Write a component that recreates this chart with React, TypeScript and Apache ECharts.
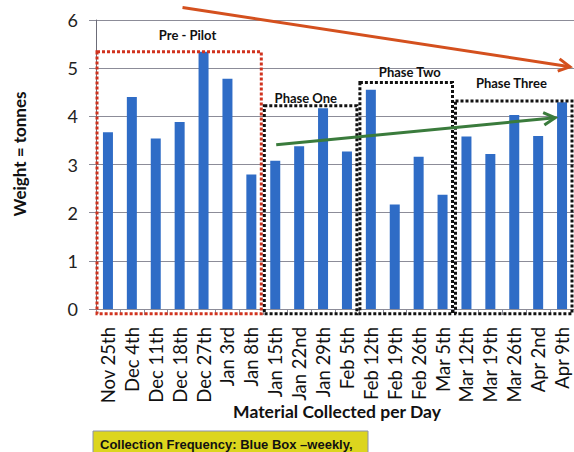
import React, { useEffect, useRef } from 'react';
import * as echarts from 'echarts';

const categories = ['Nov 25th', 'Dec 4th', 'Dec 11th', 'Dec 18th', 'Dec 27th', 'Jan 3rd', 'Jan 8th', 'Jan 15th', 'Jan 22nd', 'Jan 29th', 'Feb 5th', 'Feb 12th', 'Feb 19th', 'Feb 26th', 'Mar 5th', 'Mar 12th', 'Mar 19th', 'Mar 26th', 'Apr 2nd', 'Apr 9th'];
const tonnes = [3.67, 4.40, 3.54, 3.88, 5.34, 4.78, 2.79, 3.08, 3.38, 4.17, 3.27, 4.55, 2.17, 3.16, 2.37, 3.58, 3.22, 4.03, 3.59, 4.29];
const yMin = 0;
const yMax = 6;
const yInterval = 1;

const phaseNames = ['Pre - Pilot', 'Phase One', 'Phase Two', 'Phase Three'];
const phaseStart = [0, 7, 11, 15];
const phaseEnd = [6, 10, 14, 19];
const phaseTop = [5.34, 4.22, 4.70, 4.32];
const phaseLabelY = [5.69, 4.39, 4.92, 4.70];
const phaseLabelShift = [0.35, -0.2, 0.15, -0.1];
const phaseColors = ['#d0321e', '#111111', '#111111', '#111111'];

const redTrend = [[3.12, 6.26], [19.33, 5.03]];
const greenTrend = [[7.04, 3.41], [18.71, 3.97]];

const yAxisTitle = 'Weight = tonnes';
const xAxisTitle = 'Material Collected per Day';
const noteText = 'Collection Frequency: Blue Box \u2013weekly,';

const FONT = 'Lato, "Open Sans", sans-serif';

export default function App() {
  const ref = useRef<HTMLDivElement>(null);
  useEffect(() => {
    if (!ref.current) return;
    const chart = echarts.init(ref.current, null, { renderer: 'svg' });
    chart.setOption({
      animation: false,
      backgroundColor: '#ffffff',
      grid: { left: 96, top: 20, width: 480, height: 289, containLabel: false },
      xAxis: {
        type: 'category',
        data: categories,
        boundaryGap: true,
        axisLine: { show: true, lineStyle: { color: '#8c8c98', width: 1 } },
        axisTick: { show: true, length: 6, lineStyle: { color: '#8c8c98' } },
        axisLabel: { rotate: 90, interval: 0, margin: 18, fontSize: 18.5, color: '#111', fontFamily: FONT },
      },
      yAxis: {
        type: 'value',
        min: yMin,
        max: yMax,
        interval: yInterval,
        axisLine: { show: true, lineStyle: { color: '#6c6c78', width: 1 } },
        axisTick: { show: true, length: 7, lineStyle: { color: '#8c8c98' } },
        splitLine: { show: true, lineStyle: { color: '#8c8c98', width: 1 } },
        axisLabel: { margin: 18, fontSize: 18, color: '#222', fontFamily: FONT },
      },
      series: [
        {
          type: 'bar',
          data: tonnes,
          barWidth: 10,
          itemStyle: { color: '#2f6cc6' },
        },
      ],
    });

    const p0 = chart.convertToPixel({ gridIndex: 0 }, [categories[0], yMin]) as number[];
    const p1 = chart.convertToPixel({ gridIndex: 0 }, [categories[categories.length - 1], yMax]) as number[];
    const n = categories.length - 1;
    const band = (p1[0] - p0[0]) / n;
    const xAt = (i: number) => p0[0] + i * band;
    const yAt = (v: number) => p0[1] + ((v - yMin) * (p1[1] - p0[1])) / (yMax - yMin);

    const graphics: any[] = [];
    phaseNames.forEach((name, k) => {
      const x1 = xAt(phaseStart[k]) - band / 2 + 1;
      const x2 = xAt(phaseEnd[k]) + band / 2 - 2;
      const y1 = yAt(phaseTop[k]);
      const y2 = yAt(-0.1);
      graphics.push({
        type: 'rect',
        shape: { x: x1, y: y1, width: x2 - x1, height: y2 - y1 },
        style: { fill: 'none', stroke: phaseColors[k], lineWidth: 3, lineDash: [3, 2] },
        z: 10,
      });
      graphics.push({
        type: 'text',
        x: (x1 + x2) / 2 + phaseLabelShift[k] * band,
        y: yAt(phaseLabelY[k]),
        style: {
          text: name,
          font: `bold 13px ${FONT}`,
          fill: '#111',
          textAlign: 'center',
          textVerticalAlign: 'middle',
        },
        z: 11,
      });
    });

    const arrow = (pts: number[][], color: string) => {
      const ax = xAt(pts[0][0]);
      const ay = yAt(pts[0][1]);
      const bx = xAt(pts[1][0]);
      const by = yAt(pts[1][1]);
      const ang = Math.atan2(by - ay, bx - ax);
      const L = 13;
      const a = 0.5;
      graphics.push({
        type: 'line',
        shape: { x1: ax, y1: ay, x2: bx, y2: by },
        style: { stroke: color, lineWidth: 3 },
        z: 12,
      });
      graphics.push({
        type: 'polyline',
        shape: {
          points: [
            [bx - L * Math.cos(ang - a), by - L * Math.sin(ang - a)],
            [bx, by],
            [bx - L * Math.cos(ang + a), by - L * Math.sin(ang + a)],
          ],
        },
        style: { stroke: color, lineWidth: 3, fill: 'none' },
        z: 12,
      });
    };
    arrow(redTrend, '#d4501e');
    arrow(greenTrend, '#3a7b3c');

    graphics.push({
      type: 'text',
      x: 19,
      y: 154,
      rotation: Math.PI / 2,
      style: {
        text: yAxisTitle,
        font: `bold 17px ${FONT}`,
        fill: '#111',
        textAlign: 'center',
        textVerticalAlign: 'middle',
      },
    });
    graphics.push({
      type: 'text',
      x: 337,
      y: 411,
      style: {
        text: xAxisTitle,
        font: `bold 17.5px ${FONT}`,
        fill: '#111',
        textAlign: 'center',
        textVerticalAlign: 'middle',
      },
    });
    graphics.push({
      type: 'rect',
      shape: { x: 93, y: 431, width: 275, height: 30 },
      style: { fill: '#dcd51e', stroke: '#8a90b0', lineWidth: 1 },
    });
    graphics.push({
      type: 'text',
      x: 100,
      y: 444,
      style: {
        text: noteText,
        font: `bold 13px "Liberation Sans", Arial, sans-serif`,
        fill: '#111',
        textAlign: 'left',
        textVerticalAlign: 'middle',
      },
    });

    chart.setOption({ graphic: graphics });
    return () => chart.dispose();
  }, []);
  return (
    <div
      ref={ref}
      style={{ position: 'fixed', left: 0, top: 0, width: 574, height: 452, background: '#fff' }}
    />
  );
}
